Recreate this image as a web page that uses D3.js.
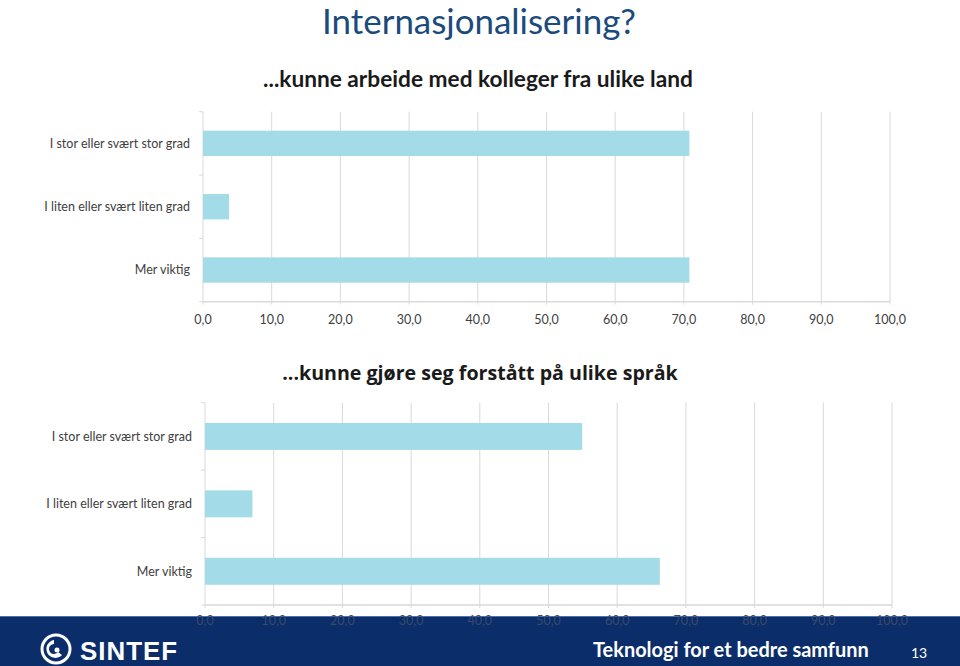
<!DOCTYPE html>
<html><head><meta charset="utf-8">
<script src="https://cdn.jsdelivr.net/npm/d3@7"></script>
<style>body{margin:0;background:#fff}svg{display:block}</style>
</head><body>
<script>
const categories = ["I stor eller svært stor grad", "I liten eller svært liten grad", "Mer viktig"];
const valuesColleagues = [70.8, 3.8, 70.8];
const valuesLanguages = [54.9, 6.9, 66.2];
const xTicks = [0,10,20,30,40,50,60,70,80,90,100];
const titleText = "Internasjonalisering?";
const chart1Title = "...kunne arbeide med kolleger fra ulike land";
const chart2Title = "...kunne gjøre seg forstått på ulike språk";
const footerText = "Teknologi for et bedre samfunn";
const pageNumber = "13";

const W = 960, H = 666;
const FONT = "Lato, 'Open Sans', sans-serif";
const svg = d3.select("body").append("svg").attr("width", W).attr("height", H);

function fit(sel, w) {
  const node = sel.node();
  const fs = parseFloat(sel.attr("font-size"));
  const len = node.getComputedTextLength();
  sel.attr("font-size", (fs * w / len).toFixed(2));
}

// Title
const t = svg.append("text").attr("x", 479).attr("y", 34).attr("text-anchor", "middle")
  .attr("font-family", FONT).attr("font-size", 36).attr("fill", "#1b4a7c").text(titleText);
fit(t, 314);

function drawChart(opts) {
  const g = svg.append("g");
  const x = d3.scaleLinear().domain([0, 100]).range([opts.x0, opts.x1]);
  const y = d3.scaleBand().domain(categories).range([opts.y0, opts.y1]).paddingInner(0.6).paddingOuter(0.3);
  g.selectAll("line.grid").data(xTicks).join("line")
    .attr("x1", d => x(d)).attr("x2", d => x(d))
    .attr("y1", opts.y0).attr("y2", opts.y1 + 3)
    .attr("stroke", "#d9d9d9").attr("stroke-width", 1);
  const bb = categories.map((c, i) => opts.y0 + i * (opts.y1 - opts.y0) / 3).concat([opts.y1]);
  g.selectAll("line.lt").data(bb).join("line")
    .attr("x1", x(0) - 4).attr("x2", x(0)).attr("y1", d => d).attr("y2", d => d)
    .attr("stroke", "#d9d9d9");
  g.selectAll("rect.bar").data(opts.values).join("rect")
    .attr("x", x(0)).attr("y", (d, i) => y(categories[i]))
    .attr("width", d => x(d) - x(0)).attr("height", y.bandwidth())
    .attr("fill", "#a3dbe8");
  g.append("line").attr("x1", x(0)).attr("x2", x(100)).attr("y1", opts.y1).attr("y2", opts.y1)
    .attr("stroke", "#d9d9d9").attr("stroke-width", 1.5);
  g.selectAll("text.cat").data(categories).join("text")
    .attr("x", opts.labelX).attr("y", d => y(d) + y.bandwidth() / 2).attr("dy", "0.35em")
    .attr("text-anchor", "end").attr("font-family", FONT).attr("font-size", 12.5)
    .attr("fill", "#404040").text(d => d);
  opts.g = g; opts.x = x;
  return opts;
}

const c1 = drawChart({ values: valuesColleagues, x0: 203, x1: 890, y0: 111.7, y1: 301.7, labelX: 190 });
const c2 = drawChart({ values: valuesLanguages, x0: 205, x1: 892, y0: 402.7, y1: 605, labelX: 192 });

const s1 = svg.append("text").attr("x", 478).attr("y", 87).attr("text-anchor", "middle")
  .attr("font-family", FONT).attr("font-weight", "bold").attr("font-size", 20).attr("fill", "#1a1a1a").text(chart1Title);
fit(s1, 430);
const s2 = svg.append("text").attr("x", 480).attr("y", 380).attr("text-anchor", "middle")
  .attr("font-family", "'Open Sans', sans-serif").attr("font-weight", "bold").attr("font-size", 20).attr("fill", "#1a1a1a").text(chart2Title);
fit(s2, 396);

function tickLabels(c, yPos) {
  svg.append("g").selectAll("text").data(xTicks).join("text")
    .attr("x", d => c.x(d)).attr("y", yPos).attr("dy", "0.35em").attr("text-anchor", "middle")
    .attr("font-family", FONT).attr("font-size", 12.5).attr("fill", c.tickColor || "#404040")
    .text(d => d3.format(".1f")(d).replace(".", ","));
}
tickLabels(c1, 320);

svg.append("rect").attr("x", 0).attr("y", 616).attr("width", W).attr("height", H - 616).attr("fill", "#0b2e6a");
svg.append("line").attr("x1", 0).attr("x2", W).attr("y1", 616.5).attr("y2", 616.5).attr("stroke", "#4d72a8").attr("stroke-width", 1);

c2.tickColor = "#3a4a6a";
tickLabels(c2, 621);

const logo = svg.append("g").attr("transform", "translate(56,649)");
logo.append("circle").attr("r", 14).attr("fill", "none").attr("stroke", "#fff").attr("stroke-width", 3);
logo.append("path").attr("d", "M-2,-9 A9,9 0 1,0 6,6 L2,3 A5,5 0 1,1 -2,-5 Z").attr("fill", "#fff");
logo.append("circle").attr("cx", 1).attr("cy", 1).attr("r", 2.5).attr("fill", "#fff");
const st = svg.append("text").attr("x", 80).attr("y", 660).attr("font-family", "'Liberation Sans', Arial, sans-serif")
  .attr("font-weight", "bold").attr("font-size", 26).attr("fill", "#fff").attr("letter-spacing", 1).text("SINTEF");
fit(st, 98);

const ft = svg.append("text").attr("x", 593).attr("y", 657).attr("font-family", FONT).attr("font-weight", "bold")
  .attr("font-size", 20).attr("fill", "#fff").text(footerText);
fit(ft, 276);
svg.append("text").attr("x", 919).attr("y", 658).attr("text-anchor", "middle").attr("font-family", FONT)
  .attr("font-size", 14).attr("fill", "#fff").text(pageNumber);
</script>
</body></html>
